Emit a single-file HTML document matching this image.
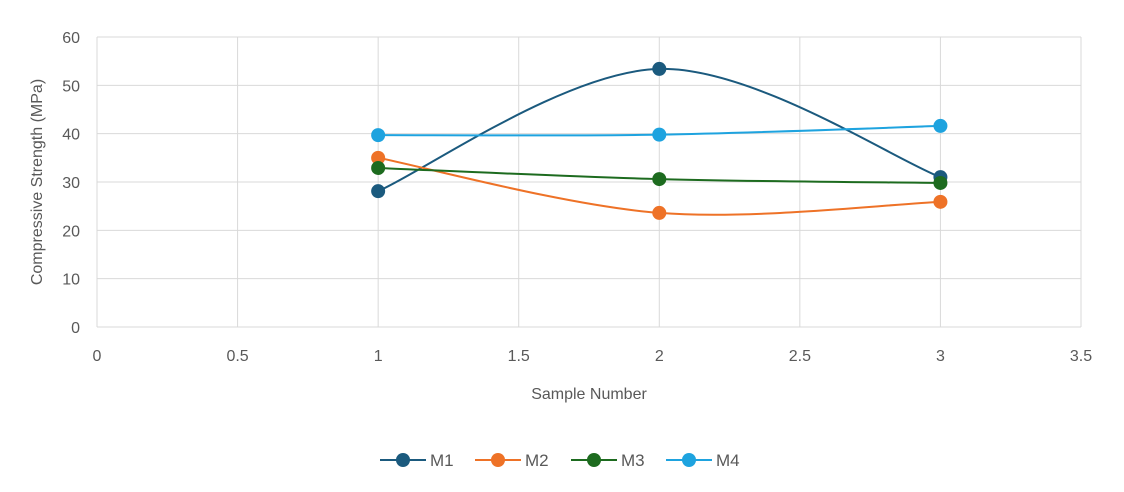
<!DOCTYPE html>
<html><head><meta charset="utf-8"><style>
html,body{margin:0;padding:0;background:#fff;}
svg{display:block;font-family:"Liberation Sans",sans-serif;}
</style></head><body>
<svg id="chart" width="1124" height="492" viewBox="0 0 1124 492">
<g id="grid"></g>
<g id="ticks" font-size="16" fill="#595959"></g>
<text x="0" y="0" font-size="16" fill="#595959" text-anchor="middle" transform="translate(42,182) rotate(-90)">Compressive Strength (MPa)</text>
<text x="589" y="399" font-size="16" fill="#595959" text-anchor="middle">Sample Number</text>
<g id="series"></g>
<g id="legend" font-size="17" fill="#595959"></g>
</svg>
<script>
const xTicks = [0, 0.5, 1, 1.5, 2, 2.5, 3, 3.5];
const yTicks = [0, 10, 20, 30, 40, 50, 60];
const samples = [1, 2, 3];
const seriesNames = ["M1", "M2", "M3", "M4"];
const m1 = [28.1, 53.4, 31.0];
const m2 = [35.0, 23.6, 25.9];
const m3 = [32.9, 30.6, 29.8];
const m4 = [39.7, 39.8, 41.6];

const colors = ["#1b5a7e", "#ee7227", "#1d6b1f", "#1ea3df"];
const NS = "http://www.w3.org/2000/svg";
const X0 = 97, X1 = 1081, Y0 = 327, Y1 = 37;
const xs = v => X0 + (v - 0) / 3.5 * (X1 - X0);
const ys = v => Y0 - (v - 0) / 60 * (Y0 - Y1);
function mk(tag, attrs, parent){const e=document.createElementNS(NS,tag);for(const k in attrs)e.setAttribute(k,attrs[k]);parent.appendChild(e);return e;}

const grid = document.getElementById('grid');
const ticks = document.getElementById('ticks');
yTicks.forEach(t=>{
  const l = mk('line',{x1:X0,x2:X1,y1:ys(t),y2:ys(t),stroke:'#d9d9d9','stroke-width':1},grid);
  
  
  const tx = mk('text',{x:80,y:ys(t)+6,'text-anchor':'end'},ticks);
  tx.textContent = t;
  
  
});
xTicks.forEach(t=>{
  const l = mk('line',{x1:xs(t),x2:xs(t),y1:Y1,y2:Y0,stroke:'#d9d9d9','stroke-width':1},grid);
  
  
  const tx = mk('text',{x:xs(t),y:361,'text-anchor':'middle'},ticks);
  tx.textContent = t;
  
  
});

function smoothPath(pts){
  let d = `M${pts[0][0]},${pts[0][1]}`;
  for(let i=0;i<pts.length-1;i++){
    const p0=pts[Math.max(i-1,0)],p1=pts[i],p2=pts[i+1],p3=pts[Math.min(i+2,pts.length-1)];
    const c1=[p1[0]+(p2[0]-p0[0])/6,p1[1]+(p2[1]-p0[1])/6];
    const c2=[p2[0]-(p3[0]-p1[0])/6,p2[1]-(p3[1]-p1[1])/6];
    d+=` C${c1[0]},${c1[1]} ${c2[0]},${c2[1]} ${p2[0]},${p2[1]}`;
  }
  return d;
}
const seriesVals = [m1, m2, m3, m4];
const sg = document.getElementById('series');
seriesVals.forEach((vals,si)=>{
  const pts = samples.map((s,i)=>[xs(s),ys(vals[i])]);
  const p = mk('path',{d:smoothPath(pts),fill:'none',stroke:colors[si],'stroke-width':2},sg);
  
  
  pts.forEach(pt=>{
    const c = mk('circle',{cx:pt[0],cy:pt[1],r:7,fill:colors[si]},sg);
    
    
  });
});

const lg = document.getElementById('legend');
const legX = [380, 475, 571, 666];
seriesNames.forEach((n,i)=>{
  const g = mk('g',{},lg);
  
  
  mk('line',{x1:legX[i],x2:legX[i]+46,y1:460,y2:460,stroke:colors[i],'stroke-width':2},g);
  mk('circle',{cx:legX[i]+23,cy:460,r:7,fill:colors[i]},g);
  const t = mk('text',{x:legX[i]+50,y:466},g);
  t.textContent = n;
});
</script>
</body></html>
